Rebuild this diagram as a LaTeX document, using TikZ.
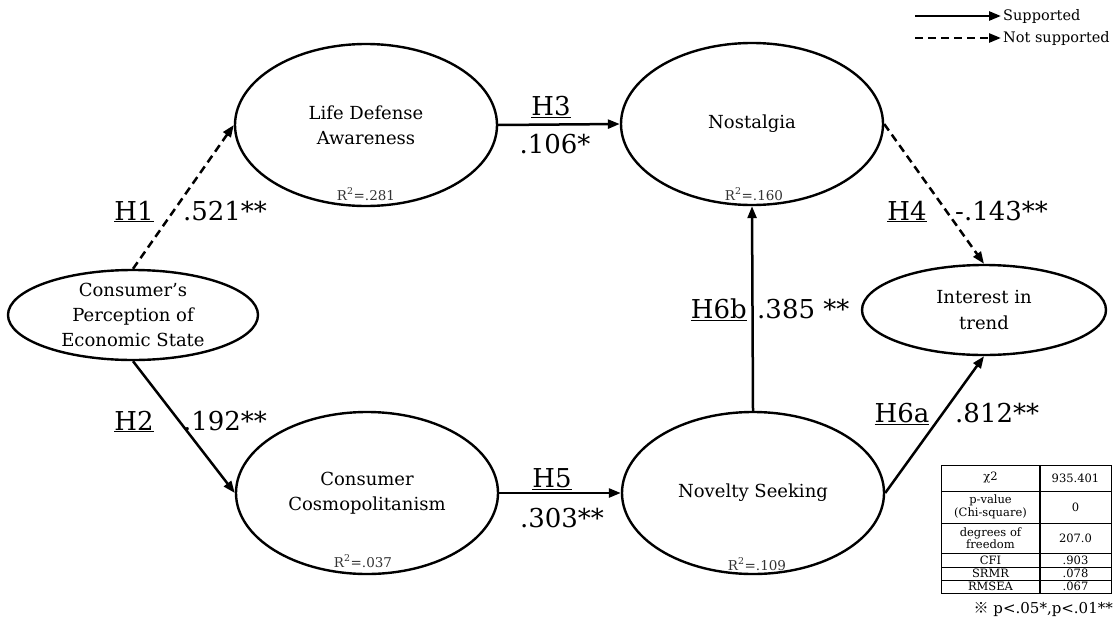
\documentclass[tikz,border=0pt]{standalone}
\usepackage{fontspec}
\setmainfont{DejaVu Serif}
\newfontfamily\refmarkfont{Noto Sans CJK JP}
\usetikzlibrary{arrows.meta,shapes.geometric}
\newcommand\mynodefont{\fontsize{18}{25}\selectfont}
\newcommand\mylabfont{\fontsize{26}{28}\selectfont}
\newcommand\hyp[1]{\underline{#1}}
\begin{document}
\begin{tikzpicture}[x=1pt,y=-1pt,
  lat/.style={ellipse, draw, line width=2.4pt, inner sep=0pt, align=center, font=\mynodefont},
  bigell/.style={lat, minimum width=262pt, minimum height=162pt},
  suparrow/.style={-{Triangle[length=12pt,width=9pt]}, line width=2.5pt},
  nsuparrow/.style={suparrow, dash pattern=on 8pt off 5pt},
  hlab/.style={font=\mylabfont, anchor=base, inner sep=0pt},
  rsq/.style={font=\fontsize{13.5}{14}\selectfont, text=black!80, anchor=base, inner sep=0pt},
  tab/.style={font=\fontsize{11.5}{12.5}\selectfont, align=center, inner sep=0pt},
  legtxt/.style={font=\fontsize{14.5}{15}\selectfont, anchor=west, inner sep=0pt}
]
\useasboundingbox (0,0) rectangle (1115,621);

% latent variables
\node[lat, minimum width=250pt, minimum height=90pt] (cp) at (133,315) {Consumer’s\\Perception of\\Economic State};
\node[bigell] (ld) at (366,125) {Life Defense\\Awareness};
\node[bigell] (no) at (752,124) {Nostalgia};
\node[bigell] (cc) at (367,493) {Consumer\\Cosmopolitanism};
\node[bigell] (ns) at (753,493) {Novelty Seeking};
\node[lat, minimum width=244pt, minimum height=90pt] (it) at (984,310) {Interest in\\trend};

% R squared
\node[rsq] (r1) at (366,200) {R\textsuperscript{2}=.281};
\node[rsq] (r2) at (754,200) {R\textsuperscript{2}=.160};
\node[rsq] (r3) at (363,567) {R\textsuperscript{2}=.037};
\node[rsq] (r4) at (757,570) {R\textsuperscript{2}=.109};

% paths
\draw[nsuparrow] (cp.north) -- (ld.west);
\draw[suparrow] (cp.south) -- (cc.west);
\draw[suparrow] (ld.east) -- (no.west);
\draw[suparrow] (cc.east) -- (ns.west);
\draw[suparrow] (ns.north) -- (no.south);
\draw[nsuparrow] (no.east) -- (it.north);
\draw[suparrow] (ns.east) -- (it.south);

% path labels
\node[hlab] (h1) at (134,220) {\hyp{H1}};
\node[hlab] (v1) at (225,220) {.521**};
\node[hlab] (h2) at (134,430) {\hyp{H2}};
\node[hlab] (v2) at (225,430) {.192**};
\node[hlab] (h3) at (551,115) {\hyp{H3}};
\node[hlab] (v3) at (555,153) {.106*};
\node[hlab] (h5) at (552,487) {\hyp{H5}};
\node[hlab] (v5) at (562,527) {.303**};
\node[hlab] (h4) at (907,220) {\hyp{H4}};
\node[hlab, anchor=base west] (v4) at (955,220) {-.143**};
\node[hlab, anchor=base east] (h6b) at (747,318) {\hyp{H6b}};
\node[hlab, anchor=base west] (v6b) at (757,318) {.385 **};
\node[hlab] (h6a) at (902,422) {\hyp{H6a}};
\node[hlab, anchor=base west] (v6a) at (955,422) {.812**};

% legend
\coordinate (l1a) at (915,16);
\coordinate (l1b) at (1001,16);
\coordinate (l2a) at (915,38);
\coordinate (l2b) at (1001,38);
\draw[suparrow] (l1a) -- (l1b);
\draw[nsuparrow] (l2a) -- (l2b);
\node[legtxt] (lt1) at (1003,16) {Supported};
\node[legtxt] (lt2) at (1003,38) {Not supported};

% fit table
\draw[line width=1pt] (941,465) rectangle (1111,593);
\draw[line width=1.4pt] (1040,465) -- (1040,593);
\foreach \yy in {491,523,553,567,580} \draw[line width=0.8pt] (941,\yy) -- (1111,\yy);
\node[tab] (t1a) at (990.5,478) {χ2};
\node[tab] (t1b) at (1075.5,478) {935.401};
\node[tab] (t2a) at (990.5,507) {p-value\\(Chi-square)};
\node[tab] (t2b) at (1075.5,507) {0};
\node[tab] (t3a) at (990.5,538) {degrees of\\freedom};
\node[tab] (t3b) at (1075.5,538) {207.0};
\node[tab] (t4a) at (990.5,560) {CFI};
\node[tab] (t4b) at (1075.5,560) {.903};
\node[tab] (t5a) at (990.5,573.5) {SRMR};
\node[tab] (t5b) at (1075.5,573.5) {.078};
\node[tab] (t6a) at (990.5,586.5) {RMSEA};
\node[tab] (t6b) at (1075.5,586.5) {.067};
\node[anchor=base east, inner sep=0pt, font=\fontsize{15}{15}\selectfont] (note) at (1113,613) {{\refmarkfont ※} p<.05*,p<.01**};
\end{tikzpicture}
\end{document}
